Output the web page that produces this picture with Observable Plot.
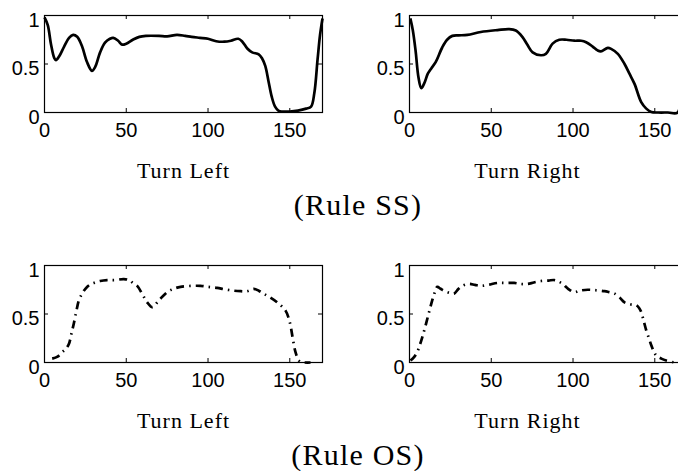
<!DOCTYPE html>
<html>
<head>
<meta charset="utf-8">
<script src="https://cdn.jsdelivr.net/npm/d3@7"></script>
<script src="https://cdn.jsdelivr.net/npm/@observablehq/plot@0.6"></script>
<style>
  html, body { margin: 0; padding: 0; background: white; }
  #fig { position: relative; width: 678px; height: 471px; overflow: hidden; background: white; }
  .panel { position: absolute; width: 332px; height: 192px; }
  .panel svg { overflow: visible; max-width: none !important; }
  #overlay { position: absolute; left: 0; top: 0; pointer-events: none; }
</style>
</head>
<body>
<div id="fig"></div>
<script>
// ---- data (time step, normalized value) ----
const ssTurnLeft = [
  [0,0.98],[2,0.90],[4,0.70],[6,0.56],[7,0.54],[9,0.58],[12,0.68],[15,0.77],[17.5,0.80],
  [20,0.78],[23,0.68],[26,0.52],[29,0.43],[31,0.47],[34,0.62],[37,0.72],[40,0.76],[42,0.77],
  [45,0.74],[47.5,0.70],[50,0.71],[54,0.75],[58,0.78],[62,0.79],[70,0.79],[75,0.785],[81,0.80],
  [86,0.79],[90,0.78],[95,0.77],[100,0.76],[105,0.735],[110,0.73],[114,0.74],[118.5,0.76],
  [121,0.73],[124,0.66],[127,0.62],[131,0.60],[133,0.56],[135,0.48],[137,0.32],[139,0.16],
  [141,0.06],[143,0.02],[145,0.01],[150,0.01],[155,0.02],[160,0.04],[163,0.06],[165,0.20],
  [167,0.55],[168.5,0.80],[170,0.97]
];
const ssTurnRight = [
  [0.5,0.97],[2,0.85],[3.7,0.64],[5.5,0.36],[7.2,0.25],[9,0.30],[11.2,0.40],[13.5,0.46],[16,0.52],
  [20,0.67],[23,0.75],[26.2,0.79],[30,0.795],[35.4,0.80],[43.6,0.83],[53.8,0.85],[61,0.86],
  [65,0.845],[69,0.78],[72,0.70],[75.3,0.62],[80.4,0.59],[83.4,0.605],[87.5,0.71],[91.6,0.75],
  [96,0.75],[100.8,0.74],[105,0.74],[108,0.725],[112,0.68],[115,0.64],[117,0.63],[121.3,0.667],
  [123.3,0.656],[127.4,0.605],[131.5,0.50],[134.5,0.40],[137.6,0.295],[141.7,0.107],[144.8,0.04],
  [147.9,0.005],[152,0.0],[158,0.0],[164,0.0],[166,0.30],[168,0.80],[170,0.97]
];
const osTurnLeft = [
  [4.7,0.04],[8,0.06],[10.8,0.107],[13,0.14],[14.9,0.19],[16.5,0.30],[17.9,0.40],[19.5,0.53],
  [21,0.64],[23,0.71],[25,0.76],[27.5,0.80],[30.2,0.82],[34,0.84],[38.3,0.85],[43,0.85],
  [48.5,0.86],[51.6,0.85],[54,0.82],[56.7,0.79],[60,0.70],[62.8,0.62],[65.9,0.57],[69.9,0.64],
  [75,0.725],[79,0.76],[83.2,0.78],[90,0.79],[95.4,0.79],[100,0.78],[105.6,0.77],[110,0.755],
  [115.8,0.74],[120,0.735],[124,0.735],[128,0.76],[131,0.74],[134,0.71],[138,0.67],[142.3,0.62],
  [147.4,0.535],[150,0.415],[152,0.23],[153.5,0.107],[155.6,0.02],[157.6,0.003],[162.7,0.0]
];
const osTurnRight = [
  [0.6,0.02],[2.5,0.05],[4.7,0.107],[6.3,0.18],[7.8,0.26],[9.5,0.36],[11.2,0.47],[12.6,0.56],
  [13.9,0.64],[15.4,0.72],[17,0.78],[19,0.76],[21,0.74],[24,0.72],[27.2,0.71],[30,0.76],
  [32.3,0.79],[36.4,0.81],[40,0.80],[43.6,0.79],[48,0.80],[53.8,0.82],[58,0.82],[64,0.82],
  [68,0.81],[72.2,0.81],[76,0.825],[80.4,0.84],[85,0.845],[88.5,0.85],[91,0.835],[93.7,0.81],
  [97,0.76],[100.8,0.725],[104,0.74],[109,0.75],[114,0.745],[119.2,0.735],[122,0.725],
  [125.4,0.71],[128.5,0.67],[131.5,0.62],[135,0.60],[138.7,0.59],[140.5,0.56],[141.7,0.52],
  [143.2,0.43],[144.8,0.33],[146.4,0.25],[147.9,0.175],[149.5,0.11],[151,0.07],[154,0.04],
  [157,0.02],[162,0.0]
];

const xTicks = [0, 50, 100, 150];
const yTicks = [0, 0.5, 1];
const xDomain = [0, 170];
const yDomain = [0, 1];
const panelLabels = ["Turn Left", "Turn Right"];
const rowTitles = ["(Rule SS)", "(Rule OS)"];

// ---- drawing ----
const W = 332, H = 192, ML = 44, MR = 10, MT = 15, MB = 80;
const innerW = W - ML - MR, innerH = H - MT - MB;
const TICK = 4;

function panel(data, dash, label, labelDx) {
  return Plot.plot({
    width: W, height: H,
    marginLeft: ML, marginRight: MR, marginTop: MT, marginBottom: MB,
    x: {domain: xDomain},
    y: {domain: yDomain},
    style: {fontFamily: "'Liberation Sans', Arial, sans-serif", fontSize: "20px", color: "black", background: "transparent", overflow: "visible", maxWidth: "none"},
    marks: [
      Plot.line(data, {x: d => d[0], y: d => d[1], curve: "catmull-rom", stroke: "black",
        strokeWidth: 2.7, strokeDasharray: dash, strokeLinejoin: "round", strokeLinecap: "butt"}),
      Plot.frame({stroke: "black", strokeWidth: 1.2}),
      Plot.tickX(xTicks, {x: d => d, insetTop: innerH - TICK, stroke: "black"}),
      Plot.tickX(xTicks, {x: d => d, insetBottom: innerH - TICK, stroke: "black"}),
      Plot.tickY(yTicks, {y: d => d, insetRight: innerW - TICK, stroke: "black"}),
      Plot.tickY(yTicks, {y: d => d, insetLeft: innerW - TICK, stroke: "black"}),
      Plot.axisX({ticks: xTicks, tickSize: 0, tickPadding: 10, tickFormat: d => String(d), label: null}),
      Plot.axisY({ticks: yTicks, tickSize: 0, tickPadding: 5, dy: 5, tickFormat: d => String(d), label: null}),
      Plot.text([label], {frameAnchor: "bottom", dy: 65, dx: labelDx, text: d => d, lineAnchor: "bottom",
        textAnchor: "middle", fontFamily: "'Liberation Serif', 'Times New Roman', serif", fontSize: 22,
        fill: "black", className: "xlab"})
    ]
  });
}

const fig = document.getElementById("fig");
const layout = [
  {data: ssTurnLeft, dash: null, label: panelLabels[0], left: 0, top: 0, dx: 0},
  {data: ssTurnRight, dash: null, label: panelLabels[1], left: 365, top: 0, dx: -21},
  {data: osTurnLeft, dash: "8,5,1.5,5", label: panelLabels[0], left: 0, top: 250, dx: 0},
  {data: osTurnRight, dash: "8,5,1.5,5", label: panelLabels[1], left: 365, top: 250, dx: -21}
];
for (const p of layout) {
  const div = document.createElement("div");
  div.className = "panel";
  div.style.left = p.left + "px";
  div.style.top = p.top + "px";
  const chart = panel(p.data, p.dash, p.label, p.dx);
  chart.style.maxWidth = "none";
  chart.style.width = W + "px";
  chart.style.height = H + "px";
  d3.select(chart).selectAll(".xlab text").style("letter-spacing", "1px");
  div.appendChild(chart);
  fig.appendChild(div);
}

// row titles
const overlay = d3.select(fig).append("svg").attr("id", "overlay").attr("width", 678).attr("height", 471);
overlay.selectAll("text").data(rowTitles).join("text")
  .attr("x", 358).attr("y", (d, i) => 215 + i * 250)
  .attr("text-anchor", "middle")
  .style("font-family", "'Liberation Serif', 'Times New Roman', serif")
  .style("font-size", "30px")
  .style("letter-spacing", "1.2px")
  .text(d => d);
</script>
</body>
</html>
